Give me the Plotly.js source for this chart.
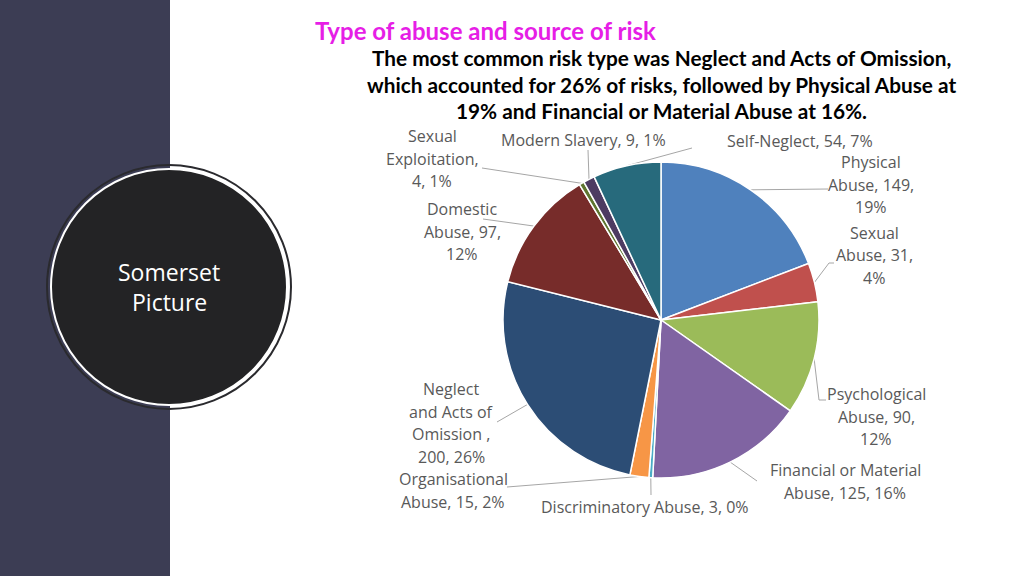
<!DOCTYPE html>
<html>
<head>
<meta charset="utf-8">
<script src="https://cdn.plot.ly/plotly-3.0.1.min.js"></script>
<style>html,body{margin:0;padding:0;background:#fff;}#chart{width:1024px;height:576px;}</style>
</head>
<body>
<div id="chart"></div>
<script>
// ---- data ----
const categories = ["Physical Abuse","Sexual Abuse","Psychological Abuse","Financial or Material Abuse","Discriminatory Abuse","Organisational Abuse","Neglect and Acts of Omission","Domestic Abuse","Sexual Exploitation","Modern Slavery","Self-Neglect"];
const counts = [149, 31, 90, 125, 3, 15, 200, 97, 4, 9, 54];
const colors = ["#4F81BD","#C0504D","#9BBB59","#8064A2","#4BACC6","#F79646","#2C4D75","#772C2A","#5F7530","#4D3B62","#276A7C"];
const labelTemplates = [
  "Physical<br>Abuse, %v,<br>%p",
  "Sexual<br>Abuse, %v,<br>%p",
  "Psychological<br>Abuse, %v,<br>%p",
  "Financial or Material<br>Abuse, %v, %p",
  "Discriminatory Abuse, %v, %p",
  "Organisational<br>Abuse, %v, %p",
  "Neglect<br>and Acts of<br>Omission ,<br>%v, %p",
  "Domestic<br>Abuse, %v,<br>%p",
  "Sexual<br>Exploitation,<br>%v, %p",
  "Modern Slavery, %v, %p",
  "Self-Neglect, %v, %p"
];
const titleText = "Type of abuse and source of risk";
const subtitleLines = [
  "The most common risk type was Neglect and Acts of Omission,",
  "which accounted for 26% of risks, followed by Physical Abuse at",
  "19% and Financial or Material Abuse at 16%."
];
const panelText = ["Somerset", "Picture"];

// ---- layout (pixels) ----
const W = 1024, H = 576;
const cx = 661, cy = 320, R = 158;
const labelPos = [[871,162],[874,233],[876,394],[845,470],[645,507],[453,479],[451,389],[462,209],[432,136],[583,140],[800,141]];
const leaderOuter = [
  [[828,189]], [[829,263],[834,263]], [[819,400],[826,400]], [[757,481]], [[651,495]],
  [[507,487]], [[497,422]], [[483,219]], [[482,168]], [[588,150]], [[692,148]]
];
const px = x => x / W, py = y => 1 - y / H;

const total = counts.reduce((a,b)=>a+b,0);
const annotations = [];
const shapes = [];

// background panel & circle
shapes.push({type:'rect', xref:'paper', yref:'paper', x0:0, x1:px(170), y0:0, y1:1, fillcolor:'#3C3D54', line:{width:0}, layer:'below'});
const ccx = 169, ccy = 287;
shapes.push({type:'circle', xref:'paper', yref:'paper', x0:px(ccx-122), x1:px(ccx+122), y0:py(ccy+122), y1:py(ccy-122), fillcolor:'rgba(0,0,0,0)', line:{color:'#2a2a2e', width:2}, layer:'below'});
shapes.push({type:'circle', xref:'paper', yref:'paper', x0:px(ccx-118), x1:px(ccx+118), y0:py(ccy+118), y1:py(ccy-118), fillcolor:'#232325', line:{color:'#ffffff', width:2}, layer:'below'});
panelText.forEach((t,i)=>annotations.push({xref:'paper', yref:'paper', x:px(169), y:py(272+i*30), text:t, showarrow:false, xanchor:'center', yanchor:'middle', font:{family:'Open Sans, Lato, sans-serif', size:23, color:'#ffffff'}}));

// titles
annotations.push({xref:'paper', yref:'paper', x:px(313), y:py(31), text:'<b>'+titleText+'</b>', showarrow:false, xanchor:'left', yanchor:'middle', font:{family:'Lato, sans-serif', size:24, color:'#E61EE6'}});
subtitleLines.forEach((t,i)=>annotations.push({xref:'paper', yref:'paper', x:px(661), y:py(58+i*26), text:'<b>'+t+'</b>', showarrow:false, xanchor:'center', yanchor:'middle', font:{family:'Lato, sans-serif', size:20.8, color:'#000000'}}));

// labels and leader lines
let cum = 0;
counts.forEach((v,i)=>{
  const mid = (cum + v/2) / total * 2 * Math.PI;
  cum += v;
  const ex = cx + R*Math.sin(mid), ey = cy - R*Math.cos(mid);
  let path = 'M ' + px(ex) + ' ' + py(ey);
  leaderOuter[i].forEach(p => { path += ' L ' + px(p[0]) + ' ' + py(p[1]); });
  shapes.push({type:'path', xref:'paper', yref:'paper', path:path, line:{color:'#A6A6A6', width:1}, layer:'below'});
  const pct = Math.round(v/total*100) + '%';
  const lines = labelTemplates[i].replace('%v', v).replace('%p', pct).split('<br>');
  lines.forEach((ln,j)=>annotations.push({xref:'paper', yref:'paper', x:px(labelPos[i][0]), y:py(labelPos[i][1]+j*22.5), text:ln, showarrow:false, xanchor:'center', yanchor:'middle', font:{family:'Open Sans, sans-serif', size:16, color:'#595959'}}));
});

const trace = {
  type:'pie', labels:categories, values:counts, sort:false, direction:'clockwise', rotation:0,
  marker:{colors:colors, line:{color:'#ffffff', width:1.5}},
  textinfo:'none', hoverinfo:'label+value+percent', showlegend:false,
  domain:{x:[px(cx-R), px(cx+R)], y:[py(cy+R), py(cy-R)]}
};

Plotly.newPlot('chart', [trace], {
  width:W, height:H, margin:{l:0,r:0,t:0,b:0}, paper_bgcolor:'#ffffff', plot_bgcolor:'#ffffff',
  showlegend:false, shapes:shapes, annotations:annotations
}, {displayModeBar:false, staticPlot:true});
</script>
</body>
</html>
